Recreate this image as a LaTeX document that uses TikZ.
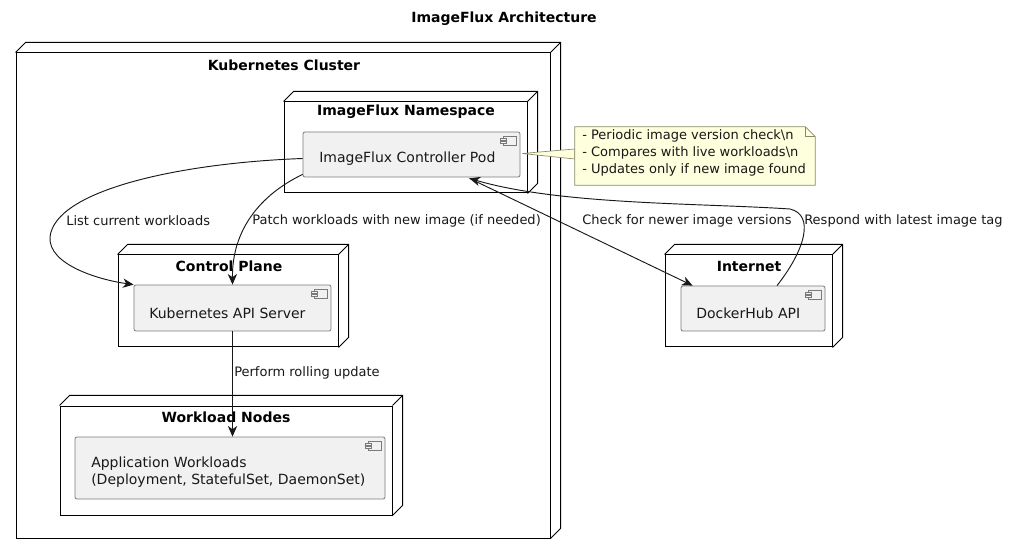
\documentclass[tikz,border=0pt]{standalone}
\usepackage{fontspec}
\setmainfont{DejaVu Sans}
\usetikzlibrary{fit,calc,arrows.meta}
\definecolor{compfill}{HTML}{F1F1F1}
\definecolor{compline}{HTML}{7A7A7A}
\definecolor{notefill}{HTML}{FEFFDD}
\definecolor{noteline}{HTML}{8A8A6A}
\definecolor{ink}{HTML}{181818}
\newcommand{\threedbox}[1]{%
  \draw[line width=0.75pt] (#1.north west) -- ++(10,-10) -- ($(#1.north east)+(10,-10)$) -- ($(#1.south east)+(10,-10)$) -- (#1.south east);
  \draw[line width=0.75pt] (#1.north east) -- ++(10,-10);}
\newcommand{\compicon}[1]{%
  \draw[compline, fill=compfill, line width=0.5pt] ($(#1.north east)+(-17,5)$) rectangle ++(13,9);
  \draw[compline, fill=compfill, line width=0.5pt] ($(#1.north east)+(-20,7)$) rectangle ++(6,2);
  \draw[compline, fill=compfill, line width=0.5pt] ($(#1.north east)+(-20,10)$) rectangle ++(6,2);}
\begin{document}
\begin{tikzpicture}[x=0.75pt,y=-0.75pt,
  dbox/.style={draw=black, fill=white, line width=0.75pt, inner sep=0pt},
  compbox/.style={draw=compline, fill=compfill, rounded corners=1.5pt, line width=0.6pt, inner sep=0pt},
  boxtitle/.style={font=\fontsize{10.5}{12.6}\selectfont\bfseries, inner sep=0pt},
  comptext/.style={font=\fontsize{10.5}{12.6}\selectfont, inner sep=0pt, anchor=west, align=left, text=ink},
  elabel/.style={font=\fontsize{9.75}{11.7}\selectfont, inner sep=0pt, anchor=west, text=ink},
  notetext/.style={font=\fontsize{9.75}{12.75}\selectfont, inner sep=0pt, anchor=west, align=left, text=ink},
  arr/.style={draw=ink, line width=0.7pt, -{Stealth[length=8pt, width=7pt, inset=2.5pt]}},
  plain/.style={draw=ink, line width=0.7pt}]
\useasboundingbox (0,0) rectangle (1009,555);

\node[boxtitle] (title) at (504,19) {ImageFlux Architecture};

% Kubernetes cluster
\node[dbox, fit={(16,53) (550,538)}] (cluster) {};
\threedbox{cluster}
\node[boxtitle] (clusterlbl) at (284,65) {Kubernetes Cluster};

% Namespace
\node[dbox, fit={(284,102) (527,193)}] (ns) {};
\threedbox{ns}
\node[boxtitle] (nslbl) at (406,112) {ImageFlux Namespace};
\node[compbox, fit={(303,132) (520,177)}] (pod) {};
\compicon{pod}
\node[comptext] (podtxt) at (319,159) {ImageFlux Controller Pod};

% Control plane
\node[dbox, fit={(118,255) (338,347)}] (cp) {};
\threedbox{cp}
\node[boxtitle] (cplbl) at (229,266) {Control Plane};
\node[compbox, fit={(134,285) (331,331)}] (api) {};
\compicon{api}
\node[comptext] (apitxt) at (149,313) {Kubernetes API Server};

% Workload nodes
\node[dbox, fit={(60,406) (392,515)}] (wn) {};
\threedbox{wn}
\node[boxtitle] (wnlbl) at (226,417) {Workload Nodes};
\node[compbox, fit={(75,437) (385,499)}] (app) {};
\compicon{app}
\node[comptext] (apptxt) at (91,472) {Application Workloads\\(Deployment, StatefulSet, DaemonSet)};

% Internet
\node[dbox, fit={(665,255) (832,347)}] (inet) {};
\threedbox{inet}
\node[boxtitle] (inetlbl) at (749,266) {Internet};
\node[compbox, fit={(681,286) (825,331)}] (dh) {};
\compicon{dh}
\node[comptext] (dhtxt) at (696,313) {DockerHub API};

% Note
\node[inner sep=0pt, fit={(575,127) (815,185)}] (note) {};
\draw[draw=noteline, fill=notefill, line width=0.5pt] ($(pod.east)+(2,-1)$) -- ($(note.west)+(0,-7)$) -- ($(note.west)+(0,3)$) -- cycle;
\draw[draw=noteline, fill=notefill, line width=0.5pt] (note.north west) -- ($(note.north east)+(-10,0)$) -- ($(note.north east)+(0,10)$) -- (note.south east) -- (note.south west) -- cycle;
\draw[draw=noteline, line width=0.5pt] ($(note.north east)+(-10,0)$) -- ($(note.north east)+(-10,10)$) -- ($(note.north east)+(0,10)$);
\node[notetext] (notetxt) at (582,153) {- Periodic image version check\textbackslash n\\- Compares with live workloads\textbackslash n\\- Updates only if new image found};

% Connectors
\draw[arr] ($(pod.west)+(0,4)$) .. controls (180,163) and (55,190) .. (50,237) .. controls (48,265) and (100,280) .. (api.north west);
\node[elabel] (l1) at (66,221) {List current workloads};

\draw[arr] ($(pod.south west)+(0,-3)$) .. controls (260,195) and (232,230) .. (api.north);
\node[elabel] (l2) at (252,221) {Patch workloads with new image (if needed)};

\draw[arr] (api.south) -- (api.south |- app.north);
\node[elabel] (l3) at (234,373) {Perform rolling update};

\draw[arr] ($(pod.south)+(58,1)$) -- ($(dh.north west)+(12,0)$);
\node[elabel] (l4) at (582,221) {Check for newer image versions};

\draw[arr] ($(dh.north)+(24,0)$) .. controls (805,250) and (815,215) .. (790,209) .. controls (700,203) and (560,205) .. ($(pod.south)+(58,1)$);
\node[elabel] (l5) at (804,221) {Respond with latest image tag};
\end{tikzpicture}
\end{document}
